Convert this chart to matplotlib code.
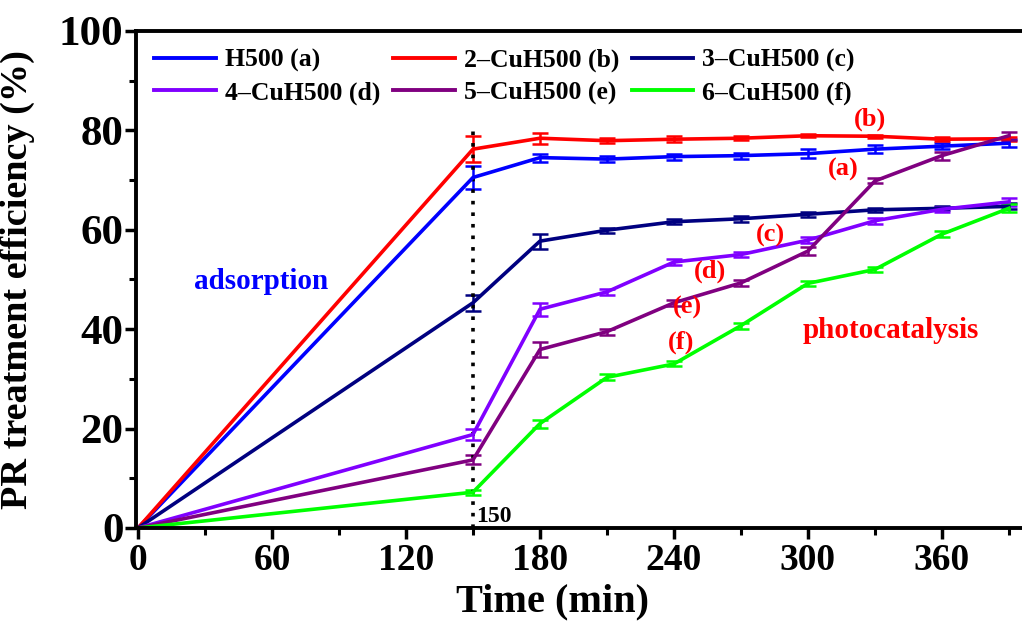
import matplotlib
matplotlib.use("Agg")
import matplotlib.pyplot as plt
from matplotlib.ticker import MultipleLocator
from matplotlib.lines import Line2D

plt.rcParams['font.family'] = ['Liberation Serif', 'DejaVu Serif']
plt.rcParams['font.weight'] = 'bold'
plt.rcParams['axes.labelweight'] = 'bold'

# time points (min)
time = [0, 150, 180, 210, 240, 270, 300, 330, 360, 390]

# treatment efficiency (%) and error bars for each sample
h500 = [0, 70.5, 74.5, 74.2, 74.7, 74.9, 75.3, 76.2, 76.8, 77.4]
h500_err = [0, 2.4, 0.8, 0.6, 0.6, 0.6, 0.9, 0.8, 0.6, 0.8]
cu2 = [0, 76.2, 78.4, 77.9, 78.2, 78.4, 78.9, 78.8, 78.2, 78.3]
cu2_err = [0, 2.6, 1.1, 0.5, 0.6, 0.4, 0.3, 0.3, 0.4, 0.4]
cu3 = [0, 45.3, 57.7, 59.9, 61.6, 62.2, 63.1, 64.0, 64.3, 64.7]
cu3_err = [0, 1.6, 1.5, 0.5, 0.5, 0.6, 0.5, 0.4, 0.4, 0.6]
cu4 = [0, 18.8, 44.0, 47.5, 53.5, 55.0, 57.9, 61.8, 64.1, 65.6]
cu4_err = [0, 1.2, 1.3, 0.6, 0.7, 0.5, 0.6, 0.6, 0.5, 0.8]
cu5 = [0, 13.7, 35.9, 39.5, 45.3, 49.3, 55.7, 69.8, 74.9, 78.9]
cu5_err = [0, 0.9, 1.5, 0.6, 0.6, 0.6, 0.8, 0.5, 0.8, 0.8]
cu6 = [0, 7.2, 21.0, 30.3, 33.0, 40.7, 49.2, 52.0, 59.1, 64.3]
cu6_err = [0, 0.5, 0.8, 0.6, 0.5, 0.6, 0.5, 0.5, 0.6, 0.8]

series = [
    ("H500 (a)", h500, h500_err, "#0000ff"),
    ("2\u2013CuH500 (b)", cu2, cu2_err, "#ff0000"),
    ("3\u2013CuH500 (c)", cu3, cu3_err, "#000080"),
    ("4\u2013CuH500 (d)", cu4, cu4_err, "#8000ff"),
    ("5\u2013CuH500 (e)", cu5, cu5_err, "#800080"),
    ("6\u2013CuH500 (f)", cu6, cu6_err, "#00ff00"),
]

fig = plt.figure(figsize=(10.22, 6.23), dpi=100)
ax = fig.add_axes([0.1331, 0.1525, 0.8748, 0.798])

handles = []
for name, vals, err, col in series:
    ax.errorbar(time, vals, yerr=err, color=col, lw=2.6, capsize=5.5,
                capthick=1.8, elinewidth=1.8)
    handles.append(Line2D([], [], color=col, lw=2.8, label=name))

# adsorption / photocatalysis boundary
ax.plot([150, 150], [0, 80], color='black', linestyle=(0, (1, 2.2)), lw=2.6)
ax.text(151.5, 1.2, "150", fontsize=17)

ax.text(55, 49.6, "adsorption", color='blue', fontsize=21, ha='center', va='center')
ax.text(337, 39.8, "photocatalysis", color='red', fontsize=21, ha='center', va='center')
labels = [("(a)", 316, 72.2), ("(b)", 328, 82.3), ("(c)", 283, 58.9),
          ("(d)", 256, 51.6), ("(e)", 246, 44.4), ("(f)", 243, 37.3)]
for txt, x, y in labels:
    ax.text(x, y, txt, color='red', fontsize=19, ha='center', va='center')

ax.set_xlim(-0.9, 399.5)
ax.set_ylim(0, 100)
ax.xaxis.set_major_locator(MultipleLocator(60))
ax.xaxis.set_minor_locator(MultipleLocator(30))
ax.yaxis.set_major_locator(MultipleLocator(20))
ax.yaxis.set_minor_locator(MultipleLocator(10))
ax.tick_params(which='major', direction='out', length=8, width=2.5, pad=3)
ax.tick_params(axis='x', which='major', labelsize=27)
ax.tick_params(axis='y', which='major', labelsize=31, pad=1)
ax.tick_params(which='minor', direction='out', length=5, width=2.2)
for s in ['left', 'bottom', 'top', 'right']:
    ax.spines[s].set_linewidth(2.8)

ax.set_xlabel("Time (min)", fontsize=29)
ax.xaxis.set_label_coords(0.466, -0.112)
ax.set_ylabel("PR treatment efficiency (%)", fontsize=27.5)
ax.yaxis.set_label_coords(-0.113, 0.5)

# legend filled row by row: a b c / d e f
order = [0, 3, 1, 4, 2, 5]
ax.legend([handles[i] for i in order], [handles[i].get_label() for i in order],
          loc='upper left', ncol=3, frameon=False, fontsize=18.5,
          handlelength=2.4, handletextpad=0.35, columnspacing=0.5,
          borderaxespad=0.4, borderpad=0.3, labelspacing=0.35,
          bbox_to_anchor=(0.0, 1.0))

plt.savefig("out.png", dpi=100)
